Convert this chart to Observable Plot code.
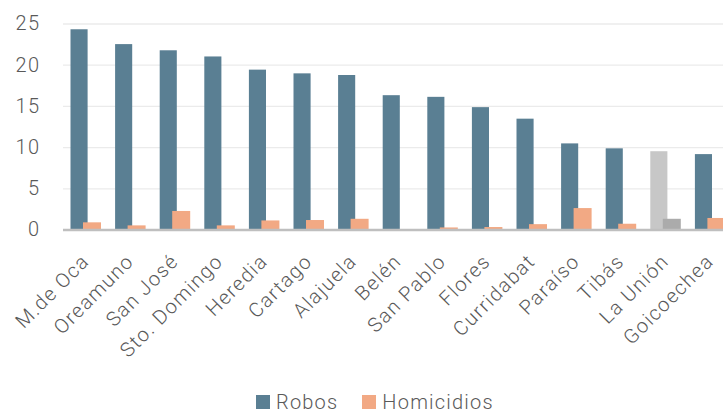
<!DOCTYPE html>
<html>
<head>
<meta charset="utf-8">
<script src="https://cdn.jsdelivr.net/npm/d3@7"></script>
<script src="https://cdn.jsdelivr.net/npm/@observablehq/plot@0.6"></script>
<style>
  html, body { margin: 0; padding: 0; background: #fff; overflow: hidden; width: 723px; height: 415px; }
  #chart svg { display: block; overflow: hidden; }
  #chart svg text { letter-spacing: 1.4px; font-weight: 300; }
  .legend { display: flex; align-items: center; margin-left: 256px; margin-top: 1px; font-family: Roboto, "Liberation Sans", sans-serif; font-size: 20px; font-weight: 300; letter-spacing: 1.2px; color: #595959; line-height: 22px; }
  .legend .sw { width: 14px; height: 14px; display: inline-block; margin-right: 6px; }
  .legend .item { display: flex; align-items: center; margin-right: 24px; }
</style>
</head>
<body>
<div id="chart"></div>
<script>
const categories = ["M.de Oca", "Oreamuno", "San José", "Sto. Domingo", "Heredia", "Cartago", "Alajuela", "Belén", "San Pablo", "Flores", "Curridabat", "Paraíso", "Tibás", "La Unión", "Goicoechea"];
const robos = [24.3, 22.5, 21.75, 21.0, 19.4, 18.95, 18.75, 16.3, 16.1, 14.85, 13.45, 10.45, 9.85, 9.5, 9.15];
const homicidios = [0.87, 0.5, 2.25, 0.5, 1.1, 1.15, 1.3, 0, 0.25, 0.3, 0.65, 2.6, 0.7, 1.3, 1.4];
const yTicks = [0, 5, 10, 15, 20, 25];
const seriesNames = ["Robos", "Homicidios"];
const highlight = "La Unión";

const colors = {Robos: "#5A7F93", Homicidios: "#F2A984"};
const highlightColors = {Robos: "#C7C7C7", Homicidios: "#ABABAB"};

const robosData = categories.map((c, i) => ({cat: c, value: robos[i], series: "Robos"}));
const homData = categories.map((c, i) => ({cat: c, value: homicidios[i], series: "Homicidios"}));
const fillOf = d => d.cat === highlight ? highlightColors[d.series] : colors[d.series];

const chart = Plot.plot({
  width: 723,
  height: 390,
  marginLeft: 63,
  marginRight: 0,
  marginTop: 23.5,
  marginBottom: 160.5,
  style: {fontFamily: "Roboto, 'Liberation Sans', sans-serif", fontSize: "20px", color: "#595959", background: "#fff"},
  x: {domain: categories, padding: 0, round: false, range: [63, 732], label: null},
  y: {domain: [0, 25], ticks: yTicks, label: null},
  marks: [
    Plot.gridY(yTicks.filter(t => t > 0), {stroke: "#EBEBEB", strokeOpacity: 1, strokeWidth: 1.3}),
    Plot.axisY({ticks: yTicks, tickSize: 0, tickPadding: 23, label: null, fontSize: 20, fill: "#595959"}),
    Plot.axisX({tickSize: 0, tickRotate: -45, tickPadding: 28, dx: 0, label: null, fontSize: 20, fill: "#595959"}),
    Plot.barY(robosData, {x: "cat", y: "value", fill: fillOf, insetLeft: 7.5, insetRight: 20}),
    Plot.barY(homData, {x: "cat", y: "value", fill: fillOf, insetLeft: 20, insetRight: 6.6}),
    Plot.ruleY([0], {stroke: "#BFBFBF", strokeWidth: 2.5})
  ]
});
document.getElementById("chart").appendChild(chart);

const legend = document.createElement("div");
legend.className = "legend";
seriesNames.forEach(name => {
  const item = document.createElement("span");
  item.className = "item";
  const sw = document.createElement("span");
  sw.className = "sw";
  sw.style.background = colors[name];
  const label = document.createElement("span");
  label.textContent = name;
  item.appendChild(sw);
  item.appendChild(label);
  legend.appendChild(item);
});
document.body.appendChild(legend);
</script>
</body>
</html>
